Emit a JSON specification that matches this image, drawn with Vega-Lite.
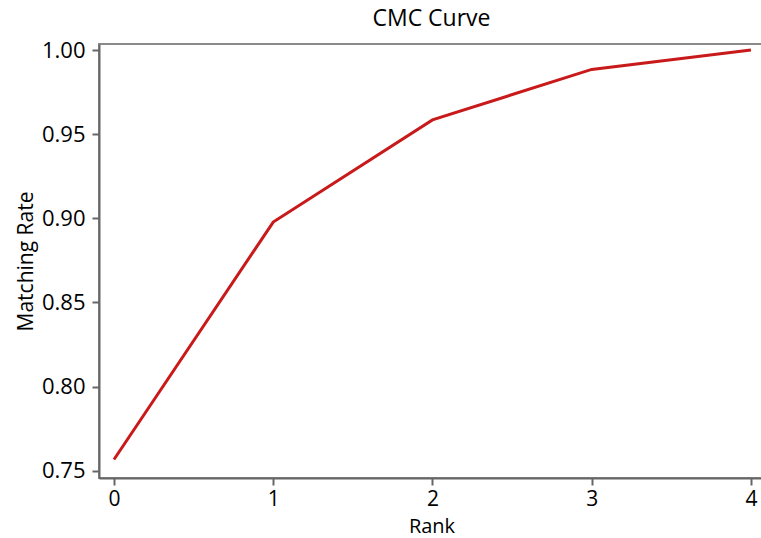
{
  "$schema": "https://vega.github.io/schema/vega-lite/v6.json",
  "autosize": "none",
  "width": 665,
  "height": 434,
  "padding": {"left": 99, "top": 44, "right": 0, "bottom": 60},
  "background": "white",
  "config": {
    "font": "Open Sans",
    "view": {"stroke": "#8a8a8a", "strokeWidth": 2}
  },
  "title": {"text": "CMC Curve", "fontSize": 23, "fontWeight": "normal", "font": "Open Sans", "color": "black", "offset": 8, "anchor": "middle"},
  "data": {
    "values": [
      {"rank": 0, "rate": 0.7567},
      {"rank": 1, "rate": 0.8978},
      {"rank": 2, "rate": 0.9585},
      {"rank": 3, "rate": 0.9885},
      {"rank": 4, "rate": 1.0}
    ]
  },
  "mark": {"type": "line", "color": "#c81a1a", "strokeWidth": 3, "clip": false},
  "encoding": {
    "x": {
      "field": "rank", "type": "quantitative", "title": "Rank",
      "scale": {"domain": [-0.094, 4.082], "nice": false, "zero": false},
      "axis": {"values": [0, 1, 2, 3, 4], "format": "d", "grid": false,
        "domainColor": "#666666", "domainWidth": 2, "tickColor": "#666666", "tickWidth": 2, "tickSize": 7,
        "labelFontSize": 21, "labelColor": "black", "labelPadding": 3, "labelFont": "Open Sans",
        "titleFontSize": 20, "titleFontWeight": "normal", "titleColor": "black", "titlePadding": 7, "titleFont": "Open Sans"}
    },
    "y": {
      "field": "rate", "type": "quantitative", "title": "Matching Rate",
      "scale": {"domain": [0.7457, 1.0036], "nice": false, "zero": false},
      "axis": {"values": [0.75, 0.8, 0.85, 0.9, 0.95, 1.0], "format": ".2f", "grid": false,
        "domainColor": "#666666", "domainWidth": 2, "tickColor": "#666666", "tickWidth": 2, "tickSize": 7,
        "labelFontSize": 22, "labelColor": "black", "labelPadding": 7, "labelFont": "Open Sans",
        "titleFontSize": 21, "titleFontWeight": "normal", "titleColor": "black", "titlePadding": 5, "titleFont": "Open Sans"}
    }
  }
}
